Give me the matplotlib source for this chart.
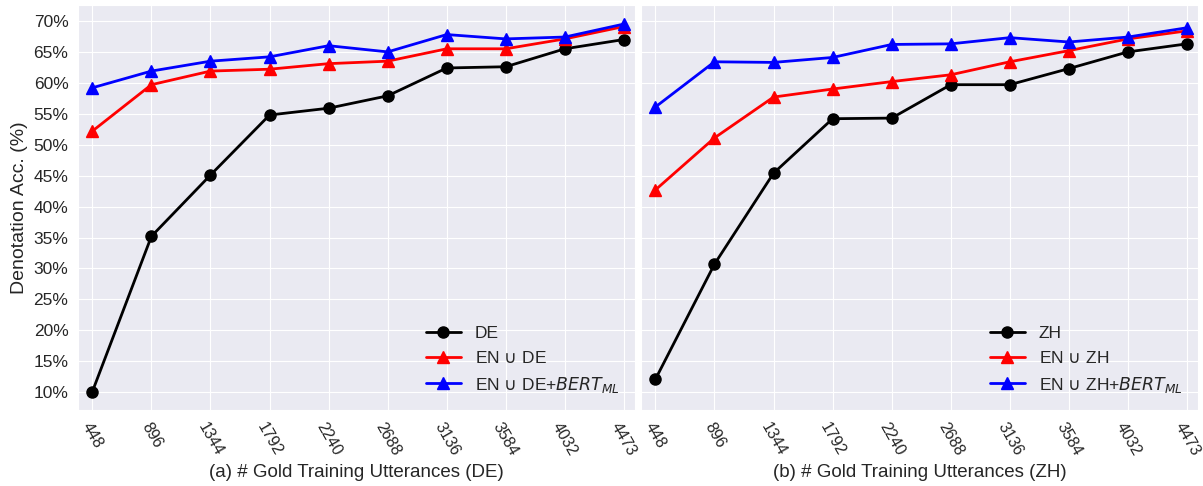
import numpy as np
import matplotlib
matplotlib.use("Agg")
import matplotlib.pyplot as plt
import seaborn as sns
from matplotlib.ticker import FuncFormatter

sns.set_style("darkgrid")
plt.rcParams['font.family'] = ['Liberation Sans', 'DejaVu Sans']

sizes = ["448", "896", "1344", "1792", "2240", "2688", "3136", "3584", "4032", "4473"]

# German
de = [10.1, 35.2, 45.1, 54.8, 55.9, 57.9, 62.4, 62.6, 65.5, 67.0]
en_de = [52.2, 59.7, 61.9, 62.2, 63.1, 63.5, 65.5, 65.5, 67.1, 69.1]
en_de_bert = [59.2, 61.9, 63.5, 64.2, 66.0, 65.0, 67.8, 67.1, 67.4, 69.5]

# Chinese
zh = [12.1, 30.7, 45.4, 54.2, 54.3, 59.7, 59.7, 62.3, 65.0, 66.3]
en_zh = [42.7, 51.1, 57.7, 59.0, 60.2, 61.3, 63.4, 65.2, 67.1, 68.4]
en_zh_bert = [56.1, 63.4, 63.3, 64.1, 66.2, 66.3, 67.3, 66.6, 67.4, 68.9]

x = np.arange(len(sizes))

fig, axes = plt.subplots(1, 2, figsize=(12.03, 4.86), dpi=100, sharey=True)
fig.subplots_adjust(left=0.065, right=0.996, top=0.99, bottom=0.156, wspace=0.011)

panels = [
    (axes[0], de, en_de, en_de_bert, "DE", "(a) # Gold Training Utterances (DE)"),
    (axes[1], zh, en_zh, en_zh_bert, "ZH", "(b) # Gold Training Utterances (ZH)"),
]

for ax, mono, en, bert, lang, xlabel in panels:
    ax.plot(x, mono, color="black", marker="o", markersize=8, linewidth=2, label=lang)
    ax.plot(x, en, color="red", marker="^", markersize=8, linewidth=2,
            label=r"EN $\cup$ " + lang)
    ax.plot(x, bert, color="blue", marker="^", markersize=8, linewidth=2,
            label=r"EN $\cup$ " + lang + r"+$BERT_{ML}$")
    ax.set_xticks(x)
    ax.set_xticklabels(sizes, rotation=-60, fontsize=11.5)
    ax.set_xlim(-0.24, 9.19)
    ax.set_xlabel(xlabel, fontsize=13.5)
    ax.legend(loc="lower right", fontsize=12.5, frameon=False)
    ax.tick_params(axis="y", labelsize=12.5)

axes[0].set_ylim(7.1, 72.6)
axes[0].set_yticks(np.arange(10, 71, 5))
axes[0].yaxis.set_major_formatter(FuncFormatter(lambda v, p: "%d%%" % v))
axes[0].set_ylabel("Denotation Acc. (%)", fontsize=14)

fig.savefig("out.png", dpi=100)
